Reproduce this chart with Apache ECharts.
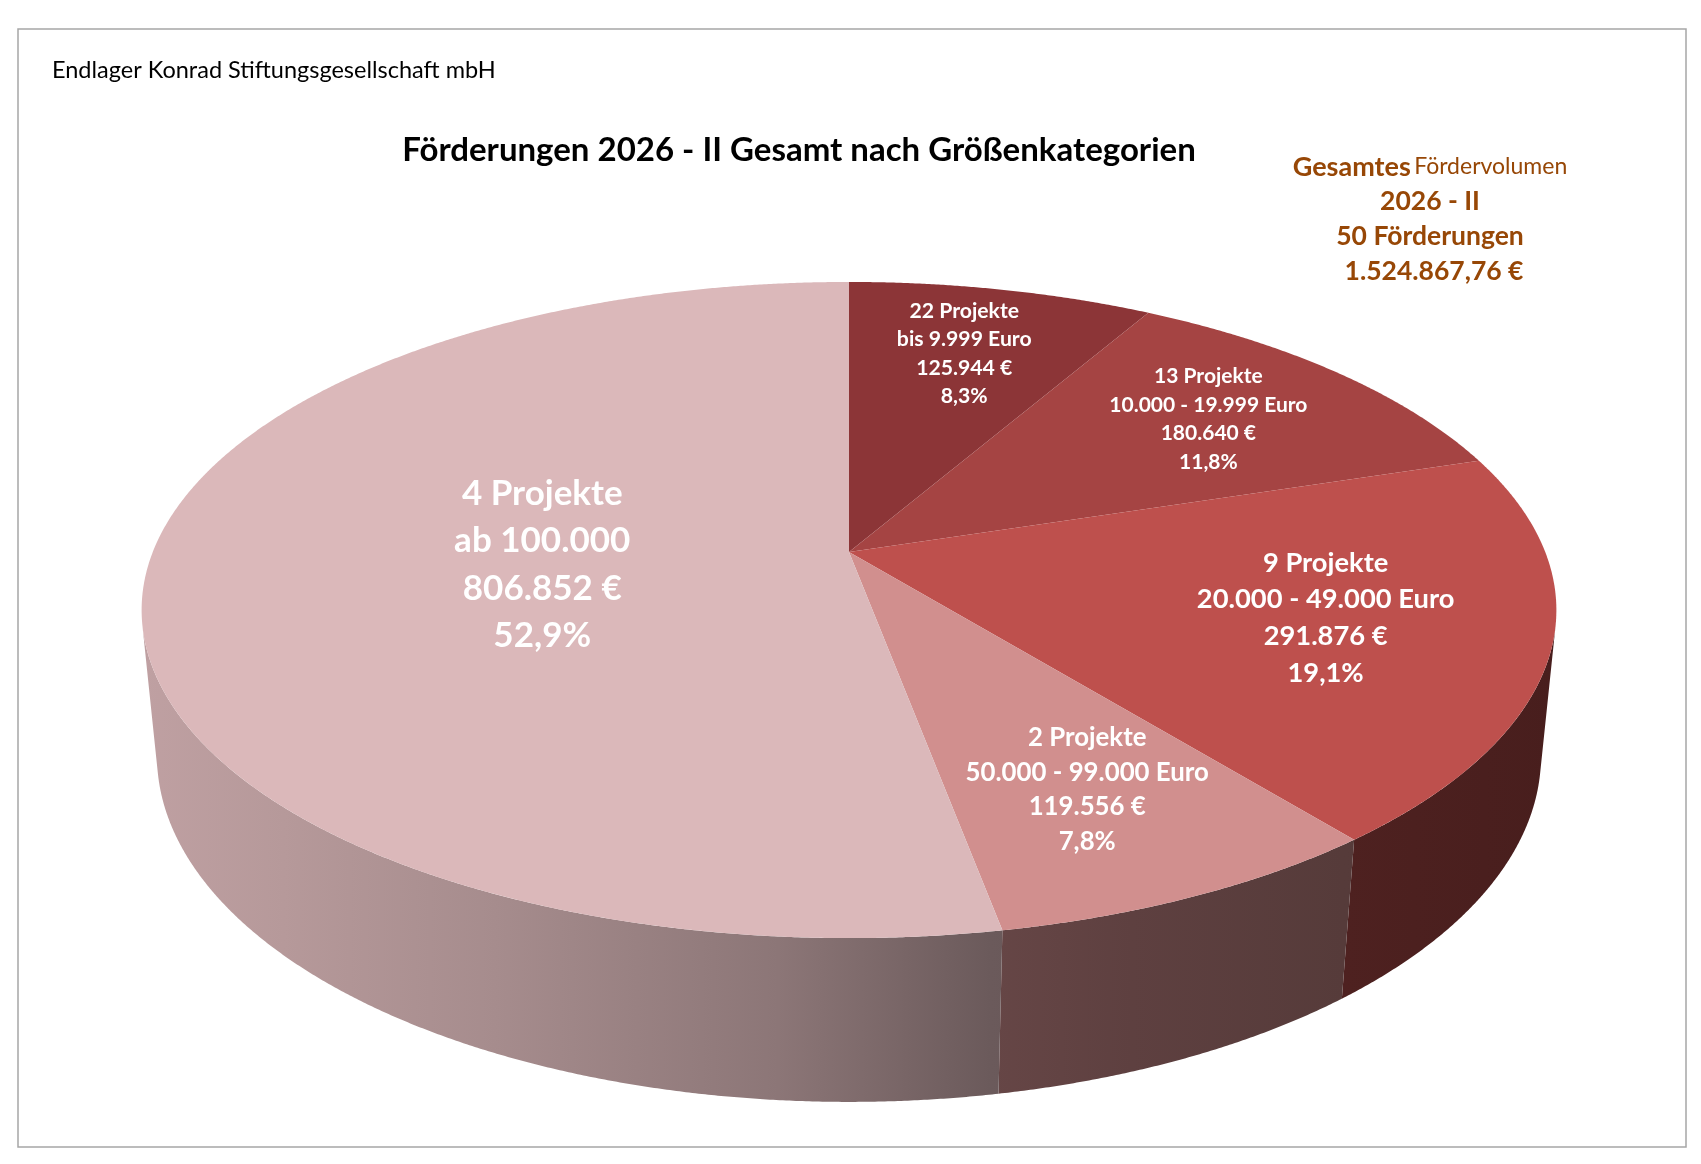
<!DOCTYPE html>
<html><head><meta charset="utf-8">
<script src="https://cdn.jsdelivr.net/npm/echarts@6/dist/echarts.min.js"></script>
<style>html,body{margin:0;padding:0;background:#fff}#c{width:1701px;height:1164px}</style>
</head><body><div id="c"></div>
<script>
// ---- data ----
const subtitleText = 'Endlager Konrad Stiftungsgesellschaft mbH';
const titleText = 'Förderungen 2026 - II Gesamt nach Größenkategorien';
const periodLabel = '2026 - II';
const totalVolume = 1524867.76;
const projectCounts = [22, 13, 9, 2, 4];
const sizeRanges = ['bis 9.999 Euro', '10.000 - 19.999 Euro', '20.000 - 49.000 Euro', '50.000 - 99.000 Euro', 'ab 100.000'];
const amounts = [125944, 180640, 291876, 119556, 806852];

// ---- styles ----
const sliceColors = ['#8c3537', '#a54443', '#be504d', '#d18f8e', '#dbb8ba'];
const labelFontSizes = [21.2, 21, 27.3, 25.8, 35];
const labelLineHeights = [28.5, 28.5, 36.7, 34.5, 47.5];
const FONT = 'Lato, "Noto Sans", sans-serif';
const BROWN = '#974706';

function fmtInt(n) { return String(Math.round(n)).replace(/\B(?=(\d{3})+(?!\d))/g, '.'); }
function fmtMoney(n) {
  const cents = Math.round(n * 100);
  const e = Math.floor(cents / 100), c = cents % 100;
  return fmtInt(e) + ',' + String(c).padStart(2, '0') + ' €';
}
const sumAmounts = amounts.reduce((a, b) => a + b, 0);
const sumProjects = projectCounts.reduce((a, b) => a + b, 0);
const cum = [0];
amounts.forEach((v, i) => cum.push(cum[i] + v));

// ---- 3D perspective geometry ----
const CX = 849, CY = 552, F = 3502, D = 5.03, SIN_P = 0.4565, COS_P = Math.sqrt(1 - SIN_P * SIN_P), H = 0.2367;
function proj(r, t, h) {
  const x3 = r * Math.cos(t), y3 = r * Math.sin(t), z3 = h;
  const depth = D + y3 * COS_P - z3 * SIN_P;
  const up = y3 * SIN_P + z3 * COS_P;
  return [CX + F * x3 / depth, CY - F * up / depth];
}
function angles(i) {
  const a0 = Math.PI / 2 - 2 * Math.PI * cum[i] / sumAmounts;
  const a1 = Math.PI / 2 - 2 * Math.PI * cum[i + 1] / sumAmounts;
  return [a0, a1];
}
const VIS = Math.asin(1 / (D * COS_P));
function shade(hex, f) {
  const n = parseInt(hex.slice(1), 16);
  const r = Math.round(((n >> 16) & 255) * f), g = Math.round(((n >> 8) & 255) * f), b = Math.round((n & 255) * f);
  return 'rgb(' + r + ',' + g + ',' + b + ')';
}
const wallStops = [[0, 0.87], [0.1, 0.83], [0.25, 0.76], [0.45, 0.64], [0.6, 0.49], [0.7, 0.45], [0.85, 0.41], [1, 0.38]];

function renderWall(params, api) {
  const i = params.dataIndex;
  const [a0, a1] = angles(i);
  const hi = Math.min(a0, -VIS), lo = Math.max(a1, -Math.PI + VIS);
  if (hi <= lo) return null;
  const n = Math.max(2, Math.ceil((hi - lo) / 0.004));
  const pts = [];
  for (let k = 0; k <= n; k++) pts.push(proj(1, hi - (hi - lo) * k / n, 0));
  for (let k = n; k >= 0; k--) pts.push(proj(1, hi - (hi - lo) * k / n, -H));
  const left = proj(1, -Math.PI + VIS, 0)[0], right = proj(1, -VIS, 0)[0];
  const grad = new echarts.graphic.LinearGradient(left, 0, right, 0,
    wallStops.map(s => ({ offset: s[0], color: shade(sliceColors[i], s[1]) })), true);
  return { type: 'polygon', shape: { points: pts }, style: { fill: grad } };
}

function renderTop(params, api) {
  const i = params.dataIndex;
  const [a0, a1] = angles(i);
  const n = Math.max(2, Math.ceil((a0 - a1) / 0.004));
  const pts = [proj(0, 0, 0)];
  for (let k = 0; k <= n; k++) pts.push(proj(1, a0 - (a0 - a1) * k / n, 0));
  const alpha = a0 - a1, mid = (a0 + a1) / 2;
  const rc = 4 * Math.sin(alpha / 2) / (3 * alpha) * 1.1;
  const lp = proj(rc, mid, 0);
  const pct = (api.value(1) / sumAmounts * 100).toFixed(1).replace('.', ',') + '%';
  const text = projectCounts[i] + ' Projekte\n' + sizeRanges[i] + '\n' + fmtInt(api.value(1)) + ' €\n' + pct;
  return {
    type: 'group', children: [
      { type: 'polygon', shape: { points: pts }, style: { fill: sliceColors[i] } },
      { type: 'text', x: lp[0], y: lp[1], z2: 10, style: { text: text, fill: '#ffffff', fontSize: labelFontSizes[i], fontWeight: 'bold', fontFamily: FONT, align: 'center', verticalAlign: 'middle', lineHeight: labelLineHeights[i] } }
    ]
  };
}

const seriesData = amounts.map((v, i) => [i, v]);
const chart = echarts.init(document.getElementById('c'), null, { renderer: 'canvas' });
chart.setOption({
  animation: false,
  backgroundColor: '#ffffff',
  graphic: [
    { type: 'rect', shape: { x: 18, y: 29, width: 1668, height: 1118 }, style: { fill: 'none', stroke: '#a6a6a6', lineWidth: 1.5 }, z: 0 },
    { type: 'text', x: 52, y: 70, style: { text: subtitleText, fontSize: 23.5, fontFamily: FONT, fill: '#000', align: 'left', verticalAlign: 'middle' } },
    { type: 'text', x: 799, y: 150, style: { text: titleText, fontSize: 33, fontWeight: 'bold', fontFamily: FONT, fill: '#000', align: 'center', verticalAlign: 'middle' } },
    { type: 'text', x: 1430, y: 167, style: { text: '{b|Gesamtes} {n|Fördervolumen}', align: 'center', verticalAlign: 'middle',
        rich: { b: { fontSize: 27, fontWeight: 'bold', fontFamily: FONT, fill: BROWN }, n: { fontSize: 23, fontFamily: FONT, fill: BROWN } } } },
    { type: 'text', x: 1430, y: 201, style: { text: periodLabel, fontSize: 26.5, fontWeight: 'bold', fontFamily: FONT, fill: BROWN, align: 'center', verticalAlign: 'middle' } },
    { type: 'text', x: 1430, y: 236, style: { text: sumProjects + ' Förderungen', fontSize: 26.5, fontWeight: 'bold', fontFamily: FONT, fill: BROWN, align: 'center', verticalAlign: 'middle' } },
    { type: 'text', x: 1434, y: 271, style: { text: fmtMoney(totalVolume), fontSize: 26.5, fontWeight: 'bold', fontFamily: FONT, fill: BROWN, align: 'center', verticalAlign: 'middle' } }
  ],
  series: [
    { type: 'custom', coordinateSystem: 'none', renderItem: renderWall, data: seriesData, z: 1, silent: true },
    { type: 'custom', coordinateSystem: 'none', renderItem: renderTop, data: seriesData, z: 2, silent: true }
  ]
});
</script></body></html>
